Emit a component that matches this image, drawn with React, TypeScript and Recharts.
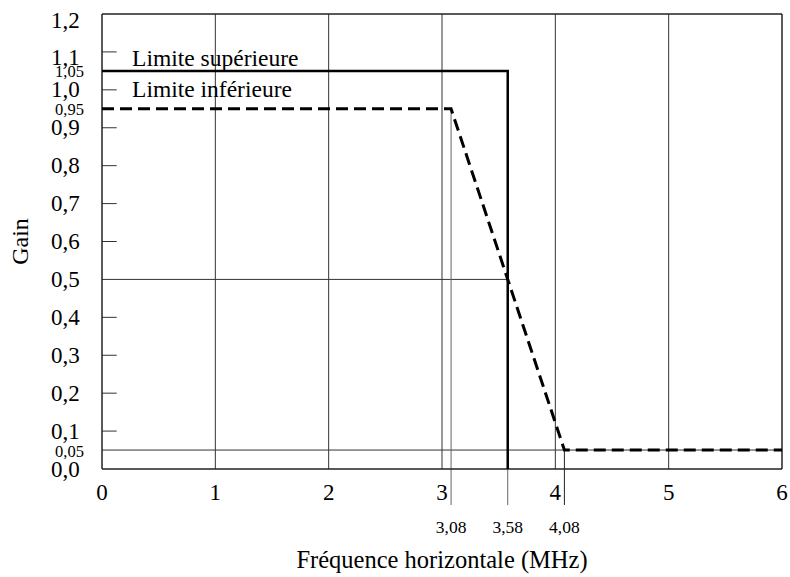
import { ComposedChart, Line, XAxis, YAxis, ReferenceLine, ReferenceDot } from 'recharts';

const upperFreq = [0, 3.58, 3.58];
const upperGain = [1.05, 1.05, 0];
const lowerFreq = [0, 3.08, 4.08, 6];
const lowerGain = [0.95, 0.95, 0.05, 0.05];

const xTicks = [0, 1, 2, 3, 4, 5, 6];
const xMarkers = [3.08, 3.58, 4.08];
const yTicks = [0, 0.05, 0.1, 0.2, 0.3, 0.4, 0.5, 0.6, 0.7, 0.8, 0.9, 0.95, 1.0, 1.05, 1.1, 1.2];
const ySmall = [0.05, 0.95, 1.05];
const innerTicks = [0.1, 0.2, 0.3, 0.4, 0.6, 0.7, 0.8, 0.9, 1.0, 1.1];
const gridX = [1, 2, 3, 4, 5];

const upperData = upperFreq.map((x, i) => ({ x, y: upperGain[i] }));
const lowerData = lowerFreq.map((x, i) => ({ x, y: lowerGain[i] }));

const FONT = 'Liberation Serif, Times New Roman, serif';
const fmt = (v: number, small: boolean) =>
  small ? v.toFixed(2).replace('.', ',') : v.toFixed(1).replace('.', ',');

function YTick(props: any) {
  const v = props.payload.value as number;
  const small = ySmall.some((s) => Math.abs(s - v) < 1e-6);
  let dy = small ? 1 : 0;
  if (Math.abs(v - 1.2) < 1e-6) dy = 6;
  if (Math.abs(v - 1.1) < 1e-6) dy = 6;
  return (
    <text
      x={small ? 55 : 51}
      y={props.y + dy}
      textAnchor="start"
      dominantBaseline="central"
      fontFamily={FONT}
      fontSize={small ? 16.5 : 23}
      fill="#000"
    >
      {fmt(v, small)}
    </text>
  );
}

function XTick(props: any) {
  const v = props.payload.value as number;
  const small = xMarkers.some((s) => Math.abs(s - v) < 1e-6);
  return (
    <text
      x={props.x}
      y={469 + (small ? 58 : 23)}
      textAnchor="middle"
      dominantBaseline="central"
      fontFamily={FONT}
      fontSize={small ? 17.5 : 23}
      fill="#000"
    >
      {small ? v.toFixed(2).replace('.', ',') : String(v)}
    </text>
  );
}

function XTitle(props: any) {
  const vb = props.viewBox;
  return (
    <text x={vb.x + vb.width / 2} y={559} textAnchor="middle" dominantBaseline="central" fontFamily={FONT} fontSize={24.5} fill="#000">
      Fréquence horizontale (MHz)
    </text>
  );
}

function YTitle(props: any) {
  const vb = props.viewBox;
  const cy = vb.y + vb.height / 2;
  return (
    <text x={20} y={cy} transform={`rotate(-90 20 ${cy})`} textAnchor="middle" dominantBaseline="central" fontFamily={FONT} fontSize={24} fill="#000">
      Gain
    </text>
  );
}

const labelShape = (text: string) => (p: any) => (
  <text x={p.cx} y={p.cy} fontFamily={FONT} fontSize={23.5} fill="#000">
    {text}
  </text>
);

export default function App() {
  return (
    <div style={{ position: 'absolute', left: 0, top: 0, width: 790, height: 577, fontFamily: FONT }}>
      <ComposedChart
        width={790}
        height={577}
        margin={{ top: 14, right: 8, left: 0, bottom: 0 }}
      >
        <XAxis
          type="number"
          dataKey="x"
          domain={[0, 6]}
          ticks={[...xTicks, ...xMarkers]}
          interval={0}
          axisLine={false}
          tickLine={false}
          tick={<XTick />}
          height={108}
          label={<XTitle />}
        />
        <YAxis
          type="number"
          dataKey="y"
          domain={[0, 1.2]}
          ticks={yTicks}
          interval={0}
          axisLine={false}
          tickLine={false}
          tick={<YTick />}
          width={102}
          label={<YTitle />}
        />

        {gridX.map((v) => (
          <ReferenceLine key={'gx' + v} x={v} stroke="#333" strokeWidth={1} />
        ))}
        <ReferenceLine segment={[{ x: 0, y: 0.5 }, { x: 3.58, y: 0.5 }]} stroke="#333" strokeWidth={1} />
        <ReferenceLine y={0.05} stroke="#333" strokeWidth={1} />
        {innerTicks.map((v) => (
          <ReferenceLine key={'it' + v} segment={[{ x: 0, y: v }, { x: 0.13, y: v }]} stroke="#333" strokeWidth={1} />
        ))}
        <ReferenceLine segment={[{ x: 3.08, y: 0.95 }, { x: 3.08, y: -0.095 }]} stroke="#666" strokeWidth={1} ifOverflow="visible" />
        <ReferenceLine segment={[{ x: 3.58, y: 0 }, { x: 3.58, y: -0.095 }]} stroke="#666" strokeWidth={1} ifOverflow="visible" />
        <ReferenceLine segment={[{ x: 4.08, y: 0.05 }, { x: 4.08, y: -0.095 }]} stroke="#222" strokeWidth={1} ifOverflow="visible" />

        <ReferenceLine x={0} stroke="#222" strokeWidth={1.5} />
        <ReferenceLine x={6} stroke="#222" strokeWidth={1.5} />
        <ReferenceLine y={0} stroke="#222" strokeWidth={1.5} />
        <ReferenceLine y={1.2} stroke="#222" strokeWidth={1.5} />

        <Line
          data={upperData}
          dataKey="y"
          type="linear"
          stroke="#000"
          strokeWidth={2.5}
          dot={false}
          isAnimationActive={false}
        />
        <Line
          data={lowerData}
          dataKey="y"
          type="linear"
          stroke="#000"
          strokeWidth={3}
          strokeDasharray="12 6"
          dot={false}
          isAnimationActive={false}
        />

        <ReferenceDot x={0.265} y={1.064} r={0} shape={labelShape('Limite supérieure')} />
        <ReferenceDot x={0.265} y={0.98} r={0} shape={labelShape('Limite inférieure')} />
      </ComposedChart>
    </div>
  );
}
